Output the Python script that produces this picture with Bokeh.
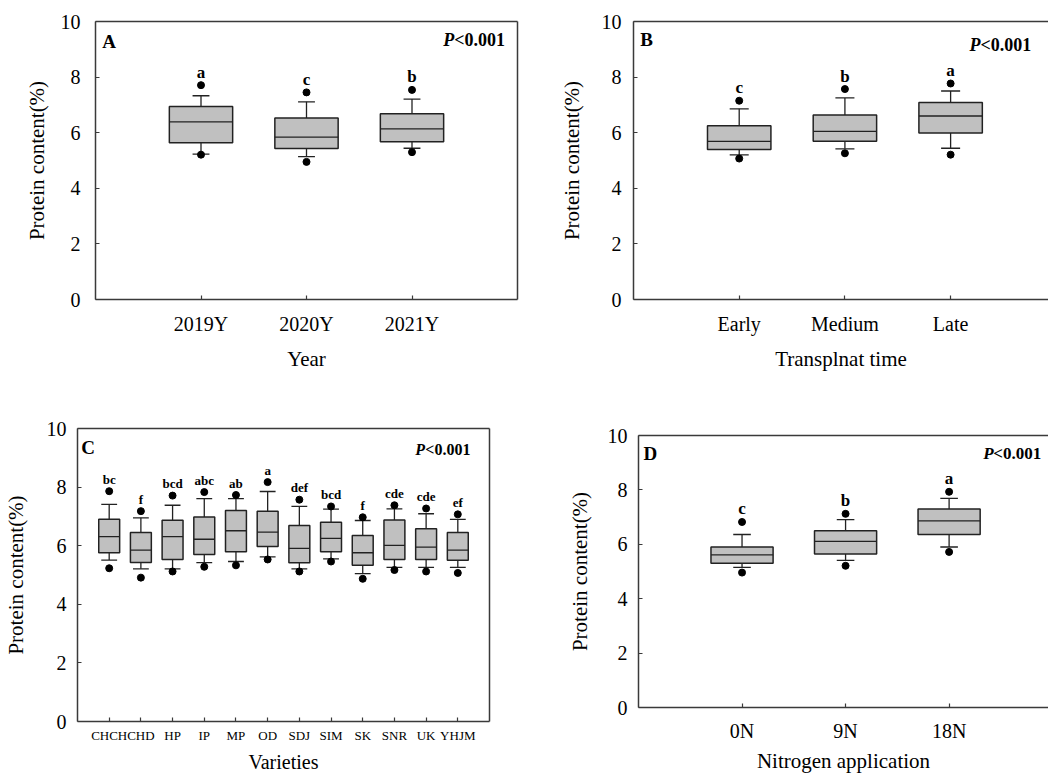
from bokeh.plotting import figure
from bokeh.models import Range1d, FixedTicker, LinearAxis, Label
from bokeh.layouts import column, row
from bokeh.embed import file_html
from bokeh.resources import INLINE
from bokeh.core.properties import value

FONT = "Liberation Serif"

# ---------------- data ----------------
# Panel A: Year
year_cats = ["2019Y", "2020Y", "2021Y"]
year_q1 = [5.64, 5.43, 5.67]
year_med = [6.39, 5.84, 6.14]
year_q3 = [6.94, 6.53, 6.68]
year_wlo = [5.23, 5.14, 5.44]
year_whi = [7.33, 7.11, 7.21]
year_out_lo = [5.21, 4.95, 5.30]
year_out_hi = [7.71, 7.45, 7.54]
year_letters = ["a", "c", "b"]

# Panel B: Transplant time
time_cats = ["Early", "Medium", "Late"]
time_q1 = [5.40, 5.69, 5.99]
time_med = [5.69, 6.05, 6.60]
time_q3 = [6.25, 6.64, 7.09]
time_wlo = [5.20, 5.42, 5.44]
time_whi = [6.86, 7.25, 7.50]
time_out_lo = [5.07, 5.26, 5.21]
time_out_hi = [7.15, 7.57, 7.77]
time_letters = ["c", "b", "a"]

# Panel C: Varieties
var_cats = ["CHCH", "CHD", "HP", "IP", "MP", "OD", "SDJ", "SIM", "SK", "SNR", "UK", "YHJM"]
var_q1 = [5.76, 5.43, 5.53, 5.70, 5.79, 5.97, 5.42, 5.79, 5.33, 5.53, 5.53, 5.50]
var_med = [6.31, 5.85, 6.31, 6.22, 6.51, 6.46, 5.91, 6.25, 5.76, 6.01, 5.95, 5.85]
var_q3 = [6.90, 6.45, 6.87, 6.98, 7.20, 7.18, 6.69, 6.80, 6.35, 6.88, 6.58, 6.45]
var_wlo = [5.51, 5.21, 5.21, 5.42, 5.46, 5.62, 5.21, 5.55, 5.05, 5.26, 5.26, 5.26]
var_whi = [7.41, 6.95, 7.38, 7.61, 7.61, 7.85, 7.34, 7.25, 6.86, 7.26, 7.09, 6.90]
var_out_lo = [5.23, 4.91, 5.12, 5.28, 5.33, 5.53, 5.12, 5.46, 4.87, 5.17, 5.12, 5.07]
var_out_hi = [7.86, 7.18, 7.71, 7.83, 7.73, 8.17, 7.57, 7.34, 6.97, 7.38, 7.27, 7.07]
var_letters = ["bc", "f", "bcd", "abc", "ab", "a", "def", "bcd", "f", "cde", "cde", "ef"]

# Panel D: Nitrogen application
n_cats = ["0N", "9N", "18N"]
n_q1 = [5.30, 5.64, 6.36]
n_med = [5.61, 6.11, 6.86]
n_q3 = [5.90, 6.50, 7.30]
n_wlo = [5.15, 5.41, 5.90]
n_whi = [6.36, 6.91, 7.69]
n_out_lo = [4.96, 5.21, 5.72]
n_out_hi = [6.82, 7.12, 7.93]
n_letters = ["c", "b", "a"]

y_ticks = [0, 2, 4, 6, 8, 10]
y_title = "Protein content(%)"
p_text = "<0.001"

AX = "#3a3a3a"


def empty_axis():
    ax = LinearAxis(ticker=FixedTicker(ticks=[]))
    ax.axis_line_color = AX
    ax.axis_line_width = 1.5
    ax.major_tick_line_color = None
    ax.minor_tick_line_color = None
    ax.major_label_text_font_size = "0px"
    return ax


def panel(cats, q1, med, q3, wlo, whi, olo, ohi, letters, tag, xlabel,
          width, height, mb_left, mb_right, mb_top, mb_bottom, x_end,
          box_w, cap_w, xtick_font, xtick_standoff, xlabel_font, xlabel_standoff,
          ytick_standoff, ylabel_standoff, letter_font, letter_off,
          tag_xy, p_xy, p_font, p_off, right_border):
    xs = [i + 1 for i in range(len(cats))]
    p = figure(width=width, height=height, output_backend="svg", toolbar_location=None,
               x_range=Range1d(0, x_end), y_range=Range1d(0, 10),
               min_border_left=mb_left, min_border_right=mb_right,
               min_border_top=mb_top, min_border_bottom=mb_bottom)
    try:
        p.frame_align = False
    except Exception:
        pass
    p.outline_line_color = None
    p.grid.visible = False
    p.background_fill_color = "white"
    p.border_fill_color = "white"

    # axes
    for ax in (p.xaxis[0], p.yaxis[0]):
        ax.axis_line_color = AX
        ax.axis_line_width = 1.5
        ax.major_tick_line_color = AX
        ax.major_tick_line_width = 1.2
        ax.major_tick_in = 4
        ax.major_tick_out = 0
        ax.minor_tick_line_color = None
        ax.major_label_text_font = FONT
        ax.axis_label_text_font = FONT
        ax.axis_label_text_font_style = "normal"
        ax.axis_label_text_color = "black"
        ax.major_label_text_color = "black"
    xa = p.xaxis[0]
    xa.ticker = FixedTicker(ticks=xs)
    xa.major_label_overrides = {x: c for x, c in zip(xs, cats)}
    xa.major_label_text_font_size = xtick_font
    xa.major_label_standoff = xtick_standoff
    xa.axis_label = xlabel
    xa.axis_label_text_font_size = xlabel_font
    xa.axis_label_standoff = xlabel_standoff
    ya = p.yaxis[0]
    ya.ticker = FixedTicker(ticks=y_ticks)
    ya.major_label_text_font_size = "20px"
    ya.major_label_standoff = ytick_standoff
    ya.axis_label = y_title
    ya.axis_label_text_font_size = "21px"
    ya.axis_label_standoff = ylabel_standoff

    p.add_layout(empty_axis(), "above")
    if right_border:
        p.add_layout(empty_axis(), "right")

    # whiskers
    p.segment(x0=xs, y0=q3, x1=xs, y1=whi, line_color="#222222", line_width=1.3)
    p.segment(x0=xs, y0=q1, x1=xs, y1=wlo, line_color="#222222", line_width=1.3)
    p.segment(x0=[x - cap_w / 2 for x in xs], y0=whi, x1=[x + cap_w / 2 for x in xs], y1=whi,
              line_color="#222222", line_width=1.3)
    p.segment(x0=[x - cap_w / 2 for x in xs], y0=wlo, x1=[x + cap_w / 2 for x in xs], y1=wlo,
              line_color="#222222", line_width=1.3)
    # boxes
    p.vbar(x=xs, width=box_w, bottom=q1, top=q3, fill_color="#c0c0c0",
           line_color="#222222", line_width=1.5)
    p.segment(x0=[x - box_w / 2 for x in xs], y0=med, x1=[x + box_w / 2 for x in xs], y1=med,
              line_color="#222222", line_width=1.3)
    # outliers
    p.scatter(x=xs, y=olo, size=7, fill_color="black", line_color="black")
    p.scatter(x=xs, y=ohi, size=7, fill_color="black", line_color="black")
    # significance letters
    p.text(x=xs, y=ohi, text=letters, y_offset=-letter_off, text_align="center",
           text_baseline="middle", text_font=value(FONT), text_font_style="bold",
           text_font_size=letter_font, text_color="black")

    # panel tag
    p.add_layout(Label(x=tag_xy[0], y=tag_xy[1], text=tag, text_font=FONT,
                       text_font_style="bold", text_font_size="19px",
                       text_align="left", text_baseline="middle", text_color="black"))
    # P<0.001
    p.add_layout(Label(x=p_xy[0], y=p_xy[1], text="P", text_font=FONT,
                       text_font_style="bold italic", text_font_size=p_font,
                       text_align="left", text_baseline="middle", text_color="black"))
    p.add_layout(Label(x=p_xy[0], y=p_xy[1], x_offset=p_off, text=p_text, text_font=FONT,
                       text_font_style="bold", text_font_size=p_font,
                       text_align="left", text_baseline="middle", text_color="black"))
    return p


pA = panel(year_cats, year_q1, year_med, year_q3, year_wlo, year_whi, year_out_lo, year_out_hi,
           year_letters, "A", "Year",
           552, 407, 95, 35, 21, 108, 4.0,
           0.6, 0.16, "20px", 13, "21px", 9,
           15, 9, "17px", 13,
           (0.064, 9.28), (3.296, 9.35), "18px", 11, True)

pB = panel(time_cats, time_q1, time_med, time_q3, time_wlo, time_whi, time_out_lo, time_out_hi,
           time_letters, "B", "Transplnat time",
           496, 407, 81, 0, 21, 108, 3.926,
           0.6, 0.18, "20px", 13, "21px", 9,
           12, 15, "17px", 13,
           (0.063, 9.37), (3.179, 9.15), "18px", 11, False)

pC = panel(var_cats, var_q1, var_med, var_q3, var_wlo, var_whi, var_out_lo, var_out_hi,
           var_letters, "C", "Varieties",
           556, 368, 77, 67, 21, 54, 13.0,
           0.66, 0.5, "13px", 6, "20px", 5,
           11, 16, "13px", 12,
           (0.117, 9.36), (10.66, 9.27), "16px", 10, True)

pD = panel(n_cats, n_q1, n_med, n_q3, n_wlo, n_whi, n_out_lo, n_out_hi,
           n_letters, "D", "Nitrogen application",
           492, 368, 82, 0, 28, 67, 3.96,
           0.6, 0.17, "20px", 12, "21px", 4,
           11, 13, "17px", 13,
           (0.048, 9.35), (3.33, 9.35), "17px", 10, False)

layout = column(row(pA, pB), row(pC, pD))
open("out.html", "w").write(file_html(layout, INLINE))
